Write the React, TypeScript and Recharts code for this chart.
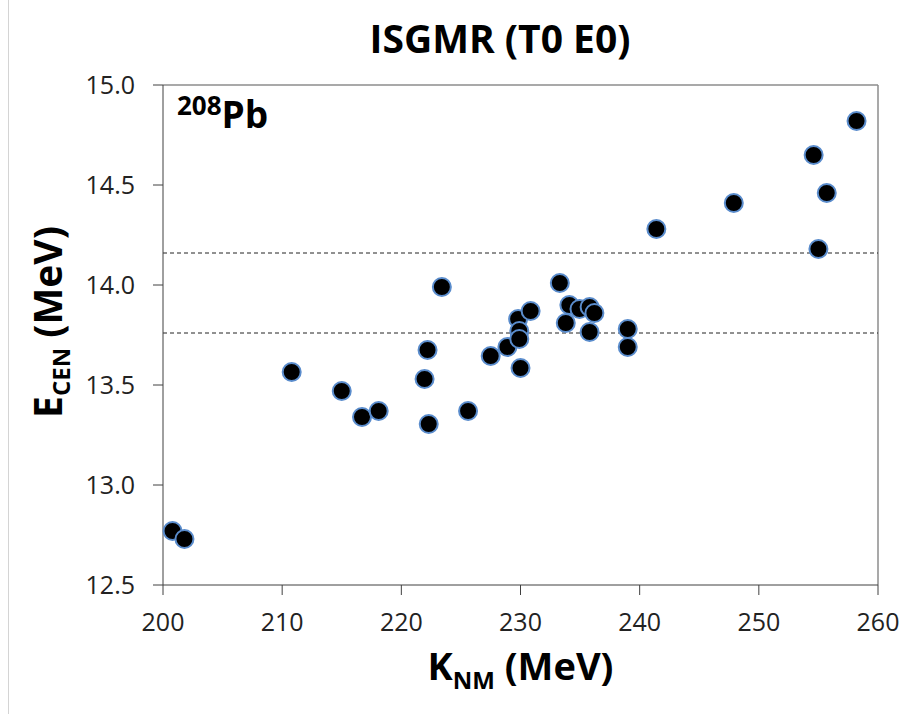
import { ScatterChart, Scatter, XAxis, YAxis, ReferenceLine } from 'recharts';

// K_NM (MeV) for each interaction
const knm = [
  200.8, 201.8, 210.8, 215.0, 216.7, 218.1, 221.95, 222.3, 222.2, 223.4, 225.6,
  227.5, 228.9, 229.8, 229.9, 229.9, 230.0, 230.85, 233.3, 234.1, 233.8, 234.95,
  235.8, 236.2, 235.8, 239.0, 239.0, 241.4, 247.9, 254.6, 255.0, 255.7, 258.2,
];

// centroid energy E_CEN (MeV)
const ecen = [
  12.77, 12.73, 13.565, 13.47, 13.34, 13.37, 13.53, 13.305, 13.675, 13.99, 13.37,
  13.645, 13.69, 13.83, 13.77, 13.73, 13.585, 13.87, 14.01, 13.9, 13.81, 13.88,
  13.89, 13.86, 13.765, 13.78, 13.69, 14.28, 14.41, 14.65, 14.18, 14.46, 14.82,
];

// experimental band
const expLow = 13.76;
const expHigh = 14.16;

const xTicks = [200, 210, 220, 230, 240, 250, 260];
const yTicks = [12.5, 13.0, 13.5, 14.0, 14.5, 15.0];

const points = knm.map((k, i) => ({ k, e: ecen[i] }));

const FONT = '"Open Sans", sans-serif';
const AXIS = '#404040';

function Dot(props: any) {
  const { cx, cy } = props;
  return <circle cx={cx} cy={cy} r={9} fill="#000" stroke="#5a8ccc" strokeWidth={2} />;
}

function XLabel(props: any) {
  const { x, y, width } = props.viewBox;
  return (
    <text x={x + width / 2} y={y + 95} textAnchor="middle" fontFamily={FONT} fontWeight={700} fontSize={38} fill="#000">
      K<tspan fontSize={24} dy={9}>NM</tspan>
      <tspan dy={-9}> (MeV)</tspan>
    </text>
  );
}

function YLabel(props: any) {
  const { y, height } = props.viewBox;
  const cx = 62;
  const cy = y + height / 2 - 13;
  return (
    <text
      x={cx}
      y={cy}
      transform={`rotate(-90, ${cx}, ${cy})`}
      textAnchor="middle"
      fontFamily={FONT}
      fontWeight={700}
      fontSize={39}
      fill="#000"
    >
      E<tspan fontSize={24} dy={8}>CEN</tspan>
      <tspan dy={-8}> (MeV)</tspan>
    </text>
  );
}

export default function App() {
  return (
    <div style={{ position: 'absolute', top: 0, left: 0, width: 904, height: 714, background: '#fff' }}>
      <div style={{ position: 'absolute', left: 8, top: 0, width: 1, height: 714, background: '#d4d4d4' }} />
      <ScatterChart width={904} height={714} margin={{ top: 85, right: 26, left: 0, bottom: 0 }}>
        <text x={500} y={53} textAnchor="middle" fontFamily={FONT} fontWeight={700} fontSize={39} fill="#000">
          ISGMR (T0 E0)
        </text>
        <text x={177} y={128} fontFamily={FONT} fontWeight={700} fontSize={37} fill="#000">
          <tspan fontSize={26} dy={-13}>208</tspan>
          <tspan dy={13}>Pb</tspan>
        </text>
        <XAxis
          type="number"
          dataKey="k"
          domain={[200, 260]}
          ticks={xTicks}
          interval={0}
          height={129}
          tickSize={10}
          tickMargin={18}
          stroke={AXIS}
          tick={{ fill: '#222', fontFamily: FONT, fontSize: 25 }}
          label={<XLabel />}
        />
        <YAxis
          type="number"
          dataKey="e"
          domain={[12.5, 15]}
          ticks={yTicks}
          interval={0}
          width={163}
          tickSize={10}
          tickMargin={18}
          stroke={AXIS}
          tickFormatter={(v: number) => v.toFixed(1)}
          tick={{ fill: '#222', fontFamily: FONT, fontSize: 25 }}
          label={<YLabel />}
        />
        <ReferenceLine y={15} stroke="#8c8c8c" strokeWidth={1.5} />
        <ReferenceLine x={260} stroke="#8c8c8c" strokeWidth={1.5} />
        <ReferenceLine y={expHigh} stroke="#222" strokeDasharray="4 3" />
        <ReferenceLine y={expLow} stroke="#222" strokeDasharray="4 3" />
        <Scatter data={points} shape={<Dot />} isAnimationActive={false} />
      </ScatterChart>
    </div>
  );
}
